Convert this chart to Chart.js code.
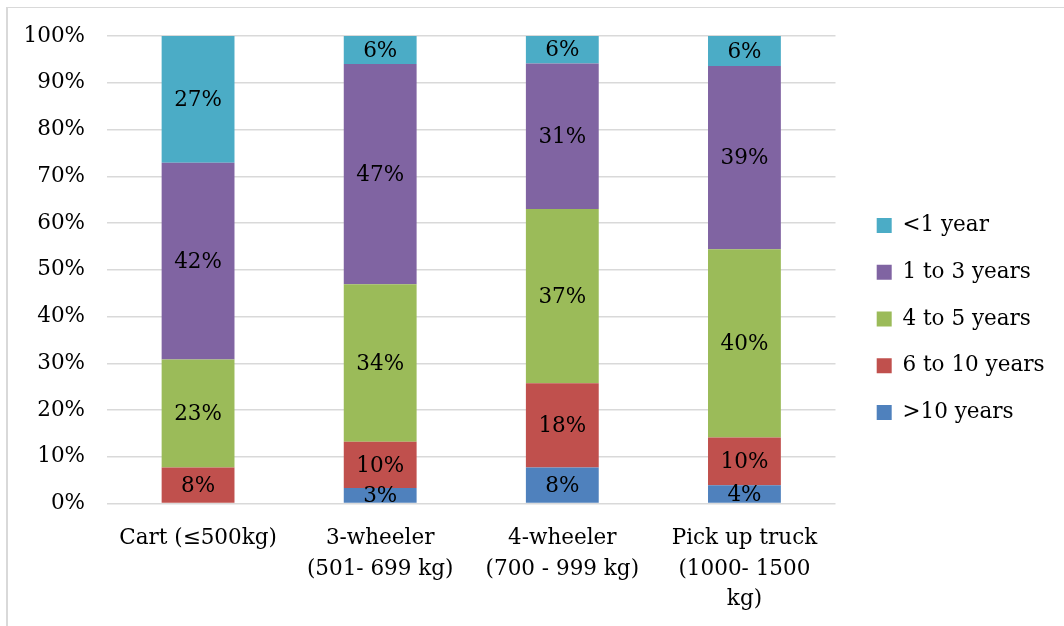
<!DOCTYPE html>
<html>
<head>
<meta charset="utf-8">
<script src="https://cdn.jsdelivr.net/npm/chart.js@4/dist/chart.umd.min.js"></script>
<style>
  html, body { margin: 0; padding: 0; background: #fff; }
  #wrap { position: relative; width: 1064px; height: 626px; overflow: hidden; }
  #frame { position: absolute; left: 6px; top: 7px; width: 1070px; height: 640px;
           border-left: 2px solid #d9d9d9; border-top: 1px solid #d9d9d9; pointer-events: none; }
</style>
</head>
<body>
<div id="wrap">
  <canvas id="chartAge" width="1064" height="626"></canvas>
  <div id="frame"></div>
</div>
<script>
/* vehicle age shares per vehicle type (percent) */
const vehicleTypes = [
    "Cart (≤500kg)",
    ["3-wheeler", "(501- 699 kg)"],
    ["4-wheeler", "(700 - 999 kg)"],
    ["Pick up truck", "(1000- 1500", "kg)"]
];
const over10 = [0, 3.3, 7.7, 3.9];
const sixTo10 = [7.7, 9.9, 18.0, 10.2];
const fourTo5 = [23.1, 33.7, 37.3, 40.3];
const oneTo3 = [42.1, 47.1, 31.1, 39.2];
const underOne = [27.1, 6.0, 5.9, 6.4];
const yTicks = [0, 10, 20, 30, 40, 50, 60, 70, 80, 90, 100];

const serif = "'DejaVu Serif', 'Liberation Serif', serif";
const fontSize = 21.5;

// percent text in the middle of every segment
const segmentLabels = {
    id: 'segmentLabels',
    afterDatasetsDraw(chart) {
        const c = chart.ctx;
        c.save();
        c.font = fontSize + "px " + serif;
        c.fillStyle = "#000";
        c.textAlign = "center";
        c.textBaseline = "middle";
        chart.data.datasets.forEach((ds, i) => {
            const meta = chart.getDatasetMeta(i);
            meta.data.forEach((bar, j) => {
                const v = ds.data[j];
                if (!v) return;
                c.fillText(Math.round(v) + "%", bar.x, (bar.y + bar.base) / 2 + 1);
            });
        });
        c.restore();
    }
};

// legend sits right of the plot, like Excel's
const legendSpot = {
    id: 'legendSpot',
    beforeLayout(chart) {
        const lg = chart.legend;
        if (lg && !lg._wrapped) {
            const fit = lg.fit.bind(lg);
            lg.fit = function () { fit(); this.width = 228.5; };
            lg._wrapped = true;
        }
    },
    afterLayout(chart) {
        const lg = chart.legend;
        lg.left += 16;
        lg.top -= 12;
        lg.bottom -= 12;
    }
};

var ctx = document.getElementById("chartAge").getContext("2d");
var chartAge = new Chart(ctx, {
    type: "bar",
    data: {
        labels: vehicleTypes,
        datasets: [
            { label: ">10 years", data: over10, backgroundColor: "#4F81BD" },
            { label: "6 to 10 years", data: sixTo10, backgroundColor: "#C0504D" },
            { label: "4 to 5 years", data: fourTo5, backgroundColor: "#9BBB59" },
            { label: "1 to 3 years", data: oneTo3, backgroundColor: "#8064A2" },
            { label: "<1 year", data: underOne, backgroundColor: "#4BACC6" }
        ]
    },
    options: {
        responsive: false,
        animation: false,
        devicePixelRatio: 1,
        layout: { padding: { top: 36, left: 0, right: 0, bottom: 0 } },
        datasets: { bar: { categoryPercentage: 1, barPercentage: 0.4, borderWidth: 0 } },
        scales: {
            x: {
                stacked: true,
                grid: { display: false, drawTicks: false },
                border: { display: false },
                ticks: {
                    color: "#000",
                    padding: 19,
                    maxRotation: 0,
                    font: { family: serif, size: fontSize, lineHeight: 1.44 }
                },
                afterFit(scale) { scale.height = 122.5; }
            },
            y: {
                stacked: true,
                min: 0,
                max: 100,
                afterBuildTicks(scale) { scale.ticks = yTicks.map(v => ({ value: v })); },
                grid: { color: "#d9d9d9", lineWidth: 1.5, drawTicks: false },
                border: { display: false },
                ticks: {
                    color: "#000",
                    padding: 22,
                    font: { family: serif, size: fontSize },
                    callback: v => v + "%"
                },
                afterFit(scale) { scale.width = 107; }
            }
        },
        plugins: {
            legend: {
                position: "right",
                reverse: true,
                labels: {
                    boxWidth: 15,
                    boxHeight: 15,
                    padding: 25.2,
                    color: "#000",
                    font: { family: serif, size: fontSize }
                }
            },
            tooltip: { enabled: false }
        }
    },
    plugins: [segmentLabels, legendSpot]
});
</script>
</body>
</html>
